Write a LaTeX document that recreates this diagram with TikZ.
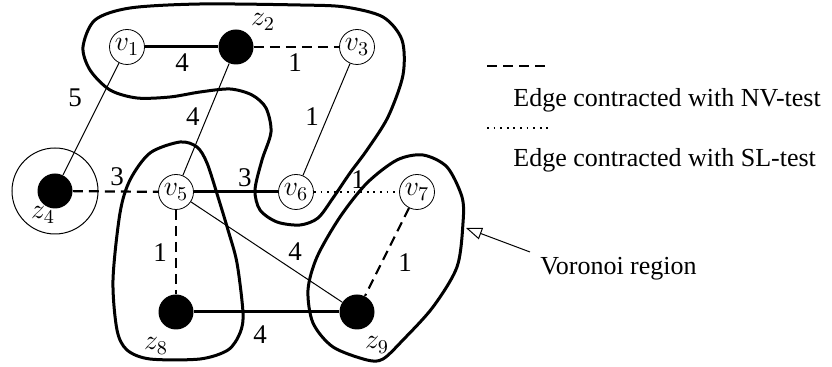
\RequirePackage{fix-cm}
\documentclass[tikz,border=0pt]{standalone}
\usepackage[no-math]{fontspec}
\setmainfont{Liberation Serif}
\usetikzlibrary{arrows.meta}
\tikzset{
  vertex/.style  = {circle, draw, thin, fill=white, inner sep=0pt, minimum size=17.5pt, font=\fontsize{14}{16}\selectfont},
  term/.style    = {circle, fill=black, inner sep=0pt, minimum size=17.5pt},
  wlabel/.style  = {font=\fontsize{13.5}{15}\selectfont},
  zlabel/.style  = {font=\fontsize{14}{16}\selectfont},
  heavy/.style   = {line width=1.5pt},
  light/.style   = {line width=0.5pt},
  nvedge/.style  = {line width=1.1pt, dash pattern=on 5pt off 3pt},
  sledge/.style  = {line width=0.9pt, dash pattern=on 0.9pt off 2.4pt},
  region/.style  = {line width=1.5pt}
}

\begin{document}
\begin{tikzpicture}[x=0.5pt, y=-0.5pt]
        \useasboundingbox (0,0) rectangle (832,367);
        % Voronoi regions
        \draw[region] plot[smooth cycle] coordinates {(83,47) (95,20) (130,8) (200,4) (300,5) (345,7) (383,17) (402,40) (403,75) (388,117) (367,150) (350,173) (333,198) (318,218) (300,225) (277,222) (260,210) (255,190) (262,160) (271,132) (266,108) (252,95) (230,89) (200,92) (170,97) (137,98) (110,90) (90,70)};
        \draw[region] plot[smooth cycle] coordinates {(180,142) (197,147) (207,163) (218,197) (228,230) (237,263) (243,313) (240,333) (228,350) (200,359) (150,359) (127,350) (117,330) (113,280) (120,213) (130,180) (150,153)};
        \draw[region] plot[smooth cycle] coordinates {(423,155) (447,167) (462,197) (463,223) (457,267) (433,307) (403,340) (383,359) (367,360) (333,347) (313,323) (308,290) (317,257) (340,217) (367,183) (397,160)};

        \node[vertex] (v1) at (127,47)  {$v_1$};
        \node[term]   (z2) at (236,47)  {};
        \node[vertex] (v3) at (357,47)  {$v_3$};
        \node[term]   (z4) at (55,191)  {};
        \node[vertex] (v5) at (176,192) {$v_5$};
        \node[vertex] (v6) at (296,192) {$v_6$};
        \node[vertex] (v7) at (417,192) {$v_7$};
        \node[term]   (z8) at (176,312) {};
        \node[term]   (z9) at (357,312) {};
        \draw[light] (z4) circle[radius=21.5pt];

        \node[zlabel] (lz2) at (263,22)  {$z_2$};
        \node[zlabel] (lz4) at (43,215)  {$z_4$};
        \node[zlabel] (lz8) at (156,346) {$z_8$};
        \node[zlabel] (lz9) at (377,345) {$z_9$};

        \draw[heavy]  (v1) -- (z2);
        \draw[nvedge] (z2) -- (v3);
        \draw[light]  (v1) -- (z4);
        \draw[light]  (z2) -- (v5);
        \draw[light]  (v3) -- (v6);
        \draw[nvedge] (z4) -- (v5);
        \draw[heavy]  (v5) -- (v6);
        \draw[sledge] (v6) -- (v7);
        \draw[nvedge] (v5) -- (z8);
        \draw[light]  (v5) -- (z9);
        \draw[heavy]  (z8) -- (z9);
        \draw[nvedge] (v7) -- (z9);

        \node[wlabel] (w1)  at (182,63)  {4};
        \node[wlabel] (w2)  at (295,63)  {1};
        \node[wlabel] (w3)  at (75,98)   {5};
        \node[wlabel] (w4)  at (193,117) {4};
        \node[wlabel] (w5)  at (312,117) {1};
        \node[wlabel] (w6)  at (117,177) {3};
        \node[wlabel] (w7)  at (245,178) {3};
        \node[wlabel] (w8)  at (358,180) {1};
        \node[wlabel] (w9)  at (160,253) {1};
        \node[wlabel] (w10) at (295,252) {4};
        \node[wlabel] (w11) at (260,335) {4};
        \node[wlabel] (w12) at (405,263) {1};

        % legend
        \coordinate (nva) at (487,66);
        \coordinate (nvb) at (548,66);
        \coordinate (sla) at (487,128);
        \coordinate (slb) at (548,128);
        \draw[nvedge, line width=0.9pt] (nva) -- (nvb);
        \draw[sledge] (sla) -- (slb);
        \node[wlabel, font=\fontsize{13}{15}\selectfont, anchor=base west, inner sep=0pt] (nvtxt) at (513,107) {Edge contracted with NV-test};
        \node[wlabel, font=\fontsize{13}{15}\selectfont, anchor=base west, inner sep=0pt] (sltxt) at (513,167) {Edge contracted with SL-test};
        \node[wlabel, font=\fontsize{13}{15}\selectfont, anchor=base west, inner sep=0pt] (vor)   at (540,275) {Voronoi region};
        \coordinate (vtail) at (530,252);
        \coordinate (vtip)  at (466,228);
        \draw[light, -{Triangle[open, length=8pt, width=6pt]}] (vtail) -- (vtip);
      \end{tikzpicture}
\end{document}
